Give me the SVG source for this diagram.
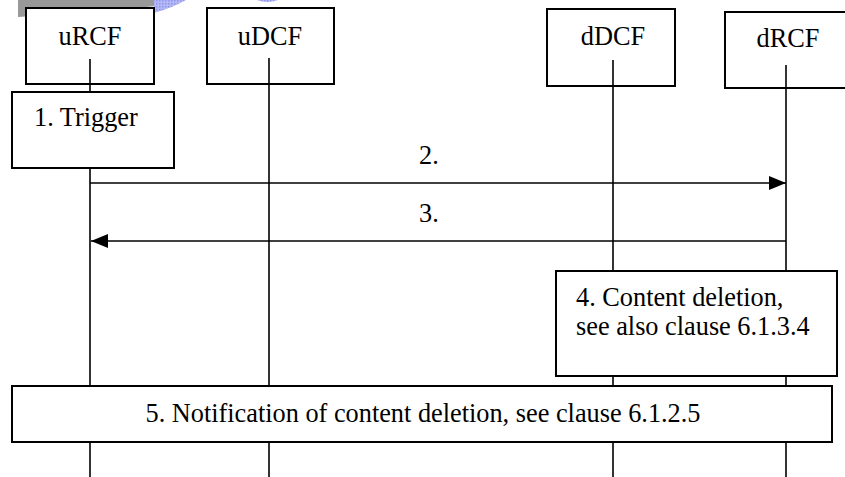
<svg xmlns="http://www.w3.org/2000/svg" width="845" height="477" viewBox="0 0 845 477">
  <defs>
    <style>
      .box { fill: #ffffff; stroke: #000000; stroke-width: 2; }
      .life { stroke: #000000; stroke-width: 1.6; fill: none; }
      .msg { stroke: #000000; stroke-width: 1.6; fill: none; }
      .t { font-size: 26.3px; fill: #000000; }
      .mid { text-anchor: middle; }
    </style>
    <pattern id="dots" width="3" height="3" patternUnits="userSpaceOnUse">
      <rect width="3" height="3" fill="#b4b8f4"/>
      <rect width="1.5" height="1.5" fill="#8f94ee"/>
    </pattern>
    <marker id="arr" viewBox="0 0 17 14" refX="17" refY="7" markerWidth="17" markerHeight="14" markerUnits="userSpaceOnUse" orient="auto">
      <path d="M0,0 L17,7 L0,14 Z" fill="#000000"/>
    </marker>
  </defs>

  <g id="watermark">
    <path d="M18,0 L18,17 Q90,13 156,6 L156,0 Z" fill="#999999"/>
    <path d="M154,0 L154,13 Q172,8 186,0 Z" fill="url(#dots)"/>
    <path d="M257,0 Q267,4 278,0 Z" fill="url(#dots)"/>
  </g>

  <g font-family="'Liberation Serif', 'Times New Roman', Times, serif">
  <g id="uRCF">
    <rect class="box" x="26" y="8" width="128" height="76"/>
    <text class="t mid" x="90" y="45">uRCF</text>
  </g>
  <g id="uDCF">
    <rect class="box" x="207" y="8" width="127" height="76"/>
    <text class="t mid" x="270" y="45">uDCF</text>
  </g>
  <g id="dDCF">
    <rect class="box" x="547" y="9" width="128" height="77"/>
    <text class="t mid" x="613" y="45">dDCF</text>
  </g>
  <g id="dRCF">
    <rect class="box" x="725" y="12" width="121" height="76"/>
    <text class="t mid" x="788" y="47">dRCF</text>
  </g>

  <g id="lifelines">
    <line class="life" x1="90" y1="59" x2="90" y2="477"/>
    <line class="life" x1="269" y1="58" x2="269" y2="477"/>
    <line class="life" x1="613" y1="60" x2="613" y2="477"/>
    <line class="life" x1="786" y1="65" x2="786" y2="477"/>
  </g>

  <g id="connectors">
    <line class="msg" x1="90" y1="183" x2="786" y2="183" marker-end="url(#arr)"/>
    <text class="t" x="419" y="164">2.</text>
    <line class="msg" x1="786" y1="241" x2="91" y2="241" marker-end="url(#arr)"/>
    <text class="t" x="419" y="222">3.</text>
  </g>

  <g id="trigger">
    <rect class="box" x="12" y="92" width="162" height="76"/>
    <text class="t" x="34" y="126">1. Trigger</text>
  </g>

  <g id="deletion">
    <rect class="box" x="556" y="271" width="281" height="105"/>
    <text class="t" x="576" y="306">4. Content deletion,</text>
    <text class="t" x="576" y="335">see also clause 6.1.3.4</text>
  </g>

  <g id="notification">
    <rect class="box" x="12" y="386" width="820" height="56"/>
    <text class="t mid" x="423" y="422">5. Notification of content deletion, see clause 6.1.2.5</text>
  </g>
  </g>
</svg>
